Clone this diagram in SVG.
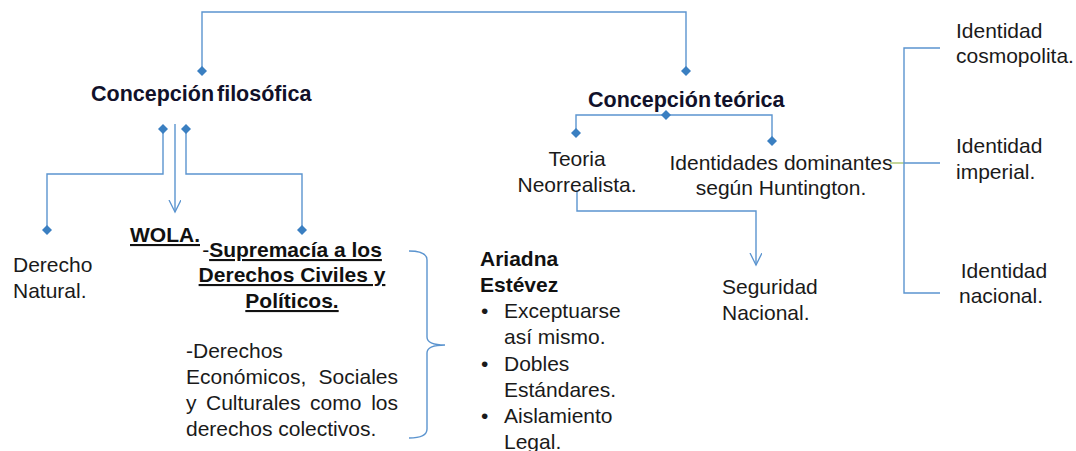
<svg xmlns="http://www.w3.org/2000/svg" xmlns:xlink="http://www.w3.org/1999/xlink" width="1076" height="451" viewBox="0 0 1076 451">
<style>
  text { font-family: "Liberation Sans", Arial, sans-serif; fill: #1a1a1a; font-size: 21px; }
  .title { font-weight: bold; font-size: 21.5px; fill: #11112a; word-spacing: -3px; }
  .bold { font-weight: bold; font-size: 21px; fill: #111; }
  .u { text-decoration: underline; }
  .conn { fill: none; stroke: #5b94cf; stroke-width: 1.4; }
  .green { fill: none; stroke: #9bbb59; stroke-width: 1.2; }
  .dia { fill: #3a7fc1; }
</style>
<defs>
  <path id="dia" class="dia" d="M0,-5 L5,0 L0,5 L-5,0 Z"/>
  <marker id="arr" markerUnits="userSpaceOnUse" markerWidth="16" markerHeight="16" refX="12" refY="6" orient="auto" viewBox="0 0 16 16">
    <path d="M0,0 L12,6 L0,12" fill="none" stroke="#5b94cf" stroke-width="1.3"/>
  </marker>
</defs>
<rect width="1076" height="451" fill="#ffffff"/>

<g id="connectors">
  <path class="conn" d="M202,71 V12 H686 V71"/>
  <path class="conn" d="M163,129 V174 H47 V230"/>
  <path class="conn" d="M175,124 V212" marker-end="url(#arr)"/>
  <path class="conn" d="M186,129 V174 H302 V230"/>
  <path class="conn" d="M576,133 V115 H772 V141"/>
  <path class="conn" d="M577,190 V211 H756 V265" marker-end="url(#arr)"/>
  <path class="green" d="M890,163 H904"/>
  <path class="conn" d="M940,48 H904 V293 H940 M904,163 H940"/>
  <path class="conn" d="M409,251 Q427,251 427,260 L427,337 Q427,345 445,345 Q427,345 427,353 L427,429 Q427,438 409,438"/>
  <use xlink:href="#dia" x="202" y="71"/>
  <use xlink:href="#dia" x="686" y="71"/>
  <use xlink:href="#dia" x="163" y="129"/>
  <use xlink:href="#dia" x="186" y="129"/>
  <use xlink:href="#dia" x="47" y="230"/>
  <use xlink:href="#dia" x="302" y="230"/>
  <use xlink:href="#dia" x="666" y="115"/>
  <use xlink:href="#dia" x="576" y="133"/>
  <use xlink:href="#dia" x="772" y="141"/>
</g>

<g id="node-concepcion-filosofica">
  <text class="title" x="91" y="101">Concepción filosófica</text>
</g>
<g id="node-concepcion-teorica">
  <text class="title" x="588" y="107">Concepción teórica</text>
</g>
<g id="node-derecho-natural">
  <text x="13" y="272">Derecho</text>
  <text x="13" y="298">Natural.</text>
</g>
<g id="node-wola">
  <text class="bold u" x="130" y="242">WOLA.</text>
</g>
<g id="node-supremacia">
  <text class="bold" x="292" y="257" text-anchor="middle"><tspan font-weight="normal">-</tspan><tspan class="u">Supremacía a los</tspan></text>
  <text class="bold u" x="292" y="282" text-anchor="middle">Derechos Civiles y</text>
  <text class="bold u" x="292" y="308" text-anchor="middle">Políticos.</text>
  <text x="186" y="358">-Derechos</text>
  <text x="186" y="384">Económicos,</text>
  <text x="398" y="384" text-anchor="end">Sociales</text>
  <text x="186" y="410">y</text>
  <text x="206" y="410">Culturales</text>
  <text x="310" y="410">como</text>
  <text x="398" y="410" text-anchor="end">los</text>
  <text x="186" y="436">derechos colectivos.</text>
</g>
<g id="node-ariadna">
  <text class="bold" x="480" y="266">Ariadna</text>
  <text class="bold" x="480" y="292">Estévez</text>
  <text x="481" y="318">•</text>
  <text x="504" y="318">Exceptuarse</text>
  <text x="504" y="344">así mismo.</text>
  <text x="481" y="371">•</text>
  <text x="504" y="371">Dobles</text>
  <text x="504" y="397">Estándares.</text>
  <text x="481" y="423">•</text>
  <text x="504" y="423">Aislamiento</text>
  <text x="504" y="449">Legal.</text>
</g>
<g id="node-teoria">
  <text x="577" y="166" text-anchor="middle">Teoria</text>
  <text x="577" y="192" text-anchor="middle">Neorrealista.</text>
</g>
<g id="node-identidades">
  <text x="781" y="170" text-anchor="middle">Identidades dominantes</text>
  <text x="781" y="195" text-anchor="middle">según Huntington.</text>
</g>
<g id="node-seguridad">
  <text x="722" y="294">Seguridad</text>
  <text x="722" y="320">Nacional.</text>
</g>
<g id="node-cosmopolita">
  <text x="956" y="38">Identidad</text>
  <text x="956" y="63">cosmopolita.</text>
</g>
<g id="node-imperial">
  <text x="956" y="153">Identidad</text>
  <text x="956" y="179">imperial.</text>
</g>
<g id="node-nacional">
  <text x="1004" y="278" text-anchor="middle">Identidad</text>
  <text x="1001" y="303" text-anchor="middle">nacional.</text>
</g>
</svg>
